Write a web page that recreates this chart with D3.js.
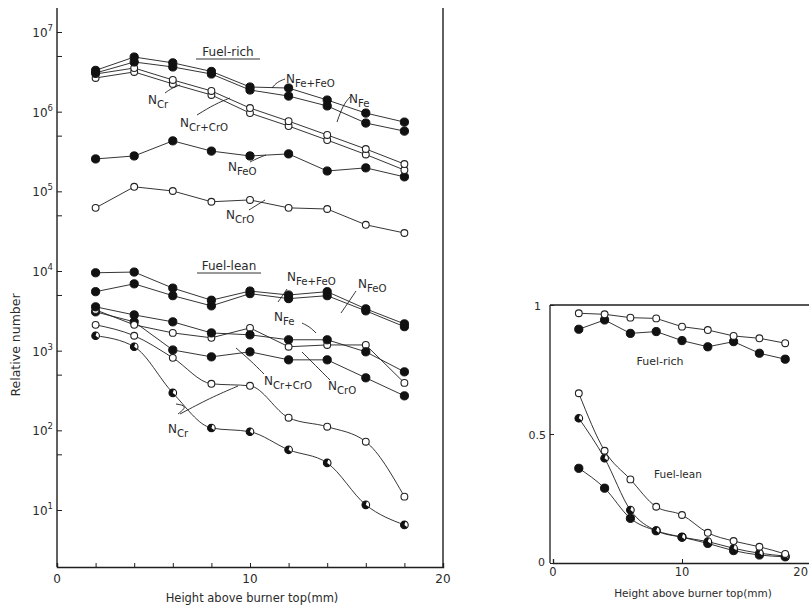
<!DOCTYPE html>
<html lang="en">
<head>
<meta charset="UTF-8">
<title>Relative number vs height above burner top</title>
<script src="https://d3js.org/d3.v7.min.js"></script>
<style>
  body { margin: 0; background: #fff; }
  svg { display: block; }
  text { font-family: "DejaVu Sans", sans-serif; fill: #2a2a2a; }
</style>
</head>
<body>
<svg id="chart" width="809" height="607"></svg>
<script>
// ---- data ----
const heights = [2, 4, 6, 8, 10, 12, 14, 16, 18]

// fuel-rich (left panel)
const richFeFeO = [3.3e6, 4.85e6, 4.1e6, 3.2e6, 2.04e6, 1.98e6, 1.4e6, 9.6e5, 7.4e5]
const richFe    = [3.06e6, 4.2e6, 3.64e6, 2.97e6, 1.87e6, 1.57e6, 1.18e6, 7.2e5, 5.7e5]
const richCrCrO = [2.97e6, 3.53e6, 2.5e6, 1.82e6, 1.11e6, 7.6e5, 5.1e5, 3.4e5, 2.2e5]
const richCr    = [2.65e6, 3.15e6, 2.23e6, 1.62e6, 9.6e5, 6.6e5, 4.4e5, 2.9e5, 1.85e5]
const richFeO   = [2.55e5, 2.78e5, 4.3e5, 3.2e5, 2.78e5, 2.95e5, 1.8e5, 1.97e5, 1.52e5]
const richCrO   = [6.2e4, 1.14e5, 1.01e5, 7.4e4, 7.8e4, 6.2e4, 6.0e4, 3.8e4, 3.0e4]

// fuel-lean (left panel)
const leanFeFeO = [9500, 9700, 6100, 4300, 5600, 5000, 5500, 3350, 2170]
const leanFeO   = [5500, 6900, 4900, 3650, 5200, 4500, 4900, 3160, 2000]
const leanFe    = [3550, 2810, 2300, 1670, 1580, 1370, 1370, 967, 542]
const leanCrCrO = [3250, 2110, 1670, 1450, 1930, 1120, 1180, 1180, 394]
const leanCrO   = [3070, 2300, 1020, 836, 967, 767, 767, 456, 271]
const leanCrA   = [2110, 1540, 813, 384, 362, 144, 111, 72, 14.7]
const leanCrB   = [1540, 1120, 295, 107, 96, 57, 39, 11.6, 6.5]

// ratios (right panel)
const ratioRichOpen   = [0.968, 0.964, 0.951, 0.948, 0.916, 0.903, 0.880, 0.871, 0.852]
const ratioRichFilled = [0.906, 0.942, 0.890, 0.897, 0.862, 0.838, 0.858, 0.813, 0.790]
const ratioLeanOpen   = [0.658, 0.435, 0.324, 0.218, 0.186, 0.117, 0.085, 0.063, 0.035]
const ratioLeanHalf   = [0.561, 0.406, 0.205, 0.125, 0.100, 0.083, 0.057, 0.038, 0.027]
const ratioLeanFilled = [0.367, 0.290, 0.173, 0.125, 0.100, 0.076, 0.048, 0.031, 0.024]

const leftYTicks = [1e1, 5e1, 1e2, 5e2, 1e3, 5e3, 1e4, 5e4, 1e5, 5e5, 1e6, 5e6, 1e7]
const xTicksLeft = [0, 2, 4, 6, 8, 10, 12, 14, 16, 18, 20]

const ink = "#1e1e1e"
const svg = d3.select("#chart")

// ---- left panel ----
const xL = d3.scaleLinear().domain([0, 20]).range([57, 443])
const yL = d3.scaleLog().domain([10, 1e7]).range([510, 32])
const bottomL = 567

const left = svg.append("g")

// frame: left axis, bottom axis, right edge
left.append("line").attr("x1", xL(0)).attr("x2", xL(0)).attr("y1", 8).attr("y2", bottomL)
  .attr("stroke", ink).attr("stroke-width", 1.4)
left.append("line").attr("x1", xL(20)).attr("x2", xL(20)).attr("y1", 8).attr("y2", bottomL)
  .attr("stroke", ink).attr("stroke-width", 1.4)

const yAxisL = left.append("g")
  .attr("transform", `translate(${xL(0)},0)`)
  .call(d3.axisRight(yL).tickValues(leftYTicks).tickSize(5).tickFormat(""))
yAxisL.select(".domain").remove()
yAxisL.selectAll(".tick line").attr("stroke", ink)

const xAxisL = left.append("g")
  .attr("transform", `translate(0,${bottomL})`)
  .call(d3.axisTop(xL).tickValues(xTicksLeft).tickSize(4).tickFormat(""))
xAxisL.select(".domain").attr("stroke", ink).attr("stroke-width", 1.4)
xAxisL.selectAll(".tick line").attr("stroke", ink)

// decade labels with superscripts
;[1, 2, 3, 4, 5, 6, 7].forEach(p => {
  const t = left.append("text")
    .attr("x", xL(0) - 4).attr("y", yL(Math.pow(10, p)) + 5)
    .attr("text-anchor", "end").attr("font-size", 12)
  t.append("tspan").text("10")
  t.append("tspan").attr("dy", -6).attr("font-size", 8.5).text(p)
})

;[0, 10, 20].forEach(v => {
  left.append("text").attr("x", xL(v)).attr("y", 583)
    .attr("text-anchor", "middle").attr("font-size", 12).text(v)
})
left.append("text").attr("x", 252).attr("y", 602)
  .attr("text-anchor", "middle").attr("font-size", 11.5)
  .text("Height  above burner top(mm)")
left.append("text")
  .attr("transform", "translate(20,345) rotate(-90)")
  .attr("text-anchor", "middle").attr("font-size", 12.5)
  .text("Relative  number")

function drawSeries(g, xs, ys, vals, marker, curve) {
  const pts = heights.map((h, i) => [xs(h), ys(vals[i])])
  g.append("path")
    .attr("d", d3.line().curve(curve || d3.curveLinear)(pts))
    .attr("fill", "none").attr("stroke", ink).attr("stroke-width", 0.9)
  pts.forEach(p => drawMarker(g, p, marker))
}

function drawMarker(g, p, marker) {
  const r = 3.8
  if (marker === "filled") {
    g.append("circle").attr("cx", p[0]).attr("cy", p[1]).attr("r", r + 0.3)
      .attr("fill", "#111").attr("stroke", "#111")
  } else if (marker === "open") {
    g.append("circle").attr("cx", p[0]).attr("cy", p[1]).attr("r", r - 0.4)
      .attr("fill", "#fff").attr("stroke", "#222").attr("stroke-width", 1.1)
  } else {
    g.append("circle").attr("cx", p[0]).attr("cy", p[1]).attr("r", r)
      .attr("fill", "#fff").attr("stroke", "#111").attr("stroke-width", 1.1)
    g.append("path")
      .attr("d", d3.arc()({ innerRadius: 0, outerRadius: r, startAngle: Math.PI * 0.7, endAngle: Math.PI * 2.1 }))
      .attr("transform", `translate(${p[0]},${p[1]})`)
      .attr("fill", "#111")
  }
}

drawSeries(left, xL, yL, richCrO, "open")
drawSeries(left, xL, yL, richFeO, "filled")
drawSeries(left, xL, yL, richCr, "open")
drawSeries(left, xL, yL, richCrCrO, "open")
drawSeries(left, xL, yL, richFe, "filled")
drawSeries(left, xL, yL, richFeFeO, "filled")

drawSeries(left, xL, yL, leanCrB, "half", d3.curveMonotoneX)
drawSeries(left, xL, yL, leanCrA, "open", d3.curveMonotoneX)
drawSeries(left, xL, yL, leanCrO, "filled")
drawSeries(left, xL, yL, leanCrCrO, "open")
drawSeries(left, xL, yL, leanFe, "filled")
drawSeries(left, xL, yL, leanFeO, "filled")
drawSeries(left, xL, yL, leanFeFeO, "filled")

// labels N with subscript
function nLabel(g, x, y, sub, size) {
  const fs = size || 12
  const t = g.append("text").attr("x", x).attr("y", y).attr("font-size", fs)
  t.append("tspan").text("N")
  t.append("tspan").attr("dy", 4).attr("font-size", fs * 0.85).text(sub)
}
function titleUnder(g, x, y, txt, w) {
  g.append("text").attr("x", x).attr("y", y).attr("text-anchor", "middle")
    .attr("font-size", 12).text(txt)
  g.append("line").attr("x1", x - w / 2).attr("x2", x + w / 2)
    .attr("y1", y + 3).attr("y2", y + 3).attr("stroke", ink).attr("stroke-width", 0.9)
}

titleUnder(left, 228, 56, "Fuel-rich", 64)
titleUnder(left, 229, 270, "Fuel-lean", 64)

nLabel(left, 286, 83, "Fe+FeO")
nLabel(left, 349, 103, "Fe")
nLabel(left, 148, 104, "Cr")
nLabel(left, 180, 127, "Cr+CrO")
nLabel(left, 228, 171, "FeO")
nLabel(left, 226, 219, "CrO")
nLabel(left, 287, 281, "Fe+FeO")
nLabel(left, 358, 288, "FeO")
nLabel(left, 274, 321, "Fe")
nLabel(left, 264, 385, "Cr+CrO")
nLabel(left, 328, 390, "CrO")
nLabel(left, 168, 433, "Cr")

// annotation leaders
const leaders = [
  [[272, 88], [277, 82], [285, 79]],
  [[337, 122], [343, 105], [350, 97]],
  [[165, 93], [172, 88], [180, 85]],
  [[197, 115], [215, 104], [230, 98]],
  [[250, 162], [258, 158], [266, 155]],
  [[249, 210], [257, 205], [265, 200]],
  [[278, 302], [283, 295], [287, 289]],
  [[341, 313], [350, 300], [356, 291]],
  [[302, 323], [310, 327], [316, 333]],
  [[264, 374], [250, 360], [236, 348]],
  [[330, 380], [315, 365], [302, 352]],
  [[180, 414], [210, 398], [238, 386]],
  [[178, 414], [188, 406], [176, 404]]
]
leaders.forEach(p => {
  left.append("path").attr("d", d3.line().curve(d3.curveBasis)(p))
    .attr("fill", "none").attr("stroke", ink).attr("stroke-width", 0.9)
})

// ---- right panel ----
const xR = d3.scaleLinear().domain([0, 20]).range([553, 811])
const yR = d3.scaleLinear().domain([0, 1]).range([563, 305])
const right = svg.append("g")

right.append("line").attr("x1", 550).attr("x2", 550).attr("y1", yR(1)).attr("y2", yR(0))
  .attr("stroke", ink).attr("stroke-width", 1.3)
right.append("line").attr("x1", 550).attr("x2", 809).attr("y1", yR(1)).attr("y2", yR(1))
  .attr("stroke", ink).attr("stroke-width", 1.3)

const yAxisR = right.append("g").attr("transform", "translate(550,0)")
  .call(d3.axisRight(yR).tickValues([0, 0.5, 1]).tickSize(4).tickFormat(""))
yAxisR.select(".domain").remove()
yAxisR.selectAll(".tick line").attr("stroke", ink)

const xAxisR = right.append("g").attr("transform", `translate(0,${yR(0)})`)
  .call(d3.axisTop(xR).tickValues([10]).tickSize(4).tickFormat(""))
xAxisR.select(".domain").attr("stroke", ink).attr("stroke-width", 1.3)
xAxisR.selectAll(".tick line").attr("stroke", ink)

right.append("text").attr("x", 541).attr("y", yR(1) + 5).attr("text-anchor", "end")
  .attr("font-size", 11).text("1")
right.append("text").attr("x", 546).attr("y", yR(0.5) + 5).attr("text-anchor", "end")
  .attr("font-size", 11).text("0.5")
right.append("text").attr("x", 545).attr("y", yR(0) + 3).attr("text-anchor", "end")
  .attr("font-size", 11).text("0")
right.append("text").attr("x", xR(0)).attr("y", 576).attr("text-anchor", "middle")
  .attr("font-size", 11.5).text(0)
right.append("text").attr("x", xR(10)).attr("y", 576).attr("text-anchor", "middle")
  .attr("font-size", 11.5).text(10)
right.append("text").attr("x", 808).attr("y", 576).attr("text-anchor", "end")
  .attr("font-size", 11.5).text(20)
right.append("text").attr("x", 693).attr("y", 597).attr("text-anchor", "middle")
  .attr("font-size", 10.5).text("Height  above burner top(mm)")

drawSeries(right, xR, yR, ratioRichFilled, "filled")
drawSeries(right, xR, yR, ratioRichOpen, "open")
drawSeries(right, xR, yR, ratioLeanFilled, "filled", d3.curveMonotoneX)
drawSeries(right, xR, yR, ratioLeanHalf, "half", d3.curveMonotoneX)
drawSeries(right, xR, yR, ratioLeanOpen, "open", d3.curveMonotoneX)

right.append("text").attr("x", 660).attr("y", 365).attr("text-anchor", "middle")
  .attr("font-size", 11).text("Fuel-rich")
right.append("text").attr("x", 678).attr("y", 478).attr("text-anchor", "middle")
  .attr("font-size", 10.5).text("Fuel-lean")
</script>
</body>
</html>
